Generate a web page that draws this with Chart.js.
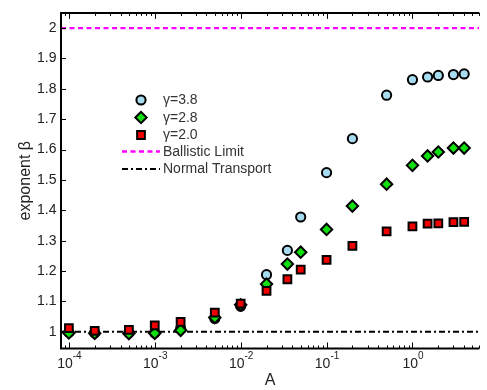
<!DOCTYPE html>
<html lang="en">
<head>
<meta charset="UTF-8">
<title>exponent beta vs A</title>
<style>
  body { margin: 0; background: #fff; }
  #wrap { width: 487px; height: 390px; }
</style>
</head>
<body>
<div id="wrap"><canvas id="chart" width="487" height="390"></canvas></div>
<script src="https://cdn.jsdelivr.net/npm/chart.js"></script>
<script>
// data
const xValues = [1e-4, 2e-4, 5e-4, 1e-3, 2e-3, 5e-3, 1e-2, 2e-2, 3.5e-2, 5e-2, 0.1, 0.2, 0.5, 1, 1.5, 2, 3, 4];
const beta38 = [0.998, 0.996, 0.997, 0.996, 1.010, 1.044, 1.084, 1.188, 1.268, 1.378, 1.524, 1.636, 1.779, 1.830, 1.839, 1.844, 1.847, 1.849];
const beta28 = [0.996, 0.995, 0.994, 0.995, 1.005, 1.047, 1.089, 1.157, 1.223, 1.262, 1.337, 1.414, 1.486, 1.548, 1.579, 1.592, 1.605, 1.605];
const beta20 = [1.012, 1.003, 1.006, 1.021, 1.033, 1.063, 1.093, 1.135, 1.173, 1.205, 1.237, 1.283, 1.331, 1.347, 1.356, 1.357, 1.361, 1.362];
const seriesNames = ['\u03b3=3.8', '\u03b3=2.8', '\u03b3=2.0'];
const lineNames = ['Ballistic Limit', 'Normal Transport'];
const ballisticY = [2, 2];
const normalY = [1, 1];

const xRange = [8.1e-5, 6];
const yRange = [0.945, 2.05];
const xTicks = [1e-4, 1e-3, 1e-2, 1e-1, 1];
const xTickExp = ['-4', '-3', '-2', '-1', '0'];
const yTicks = [1, 1.1, 1.2, 1.3, 1.4, 1.5, 1.6, 1.7, 1.8, 1.9, 2];

const toPts = ys => xValues.map((x, i) => ({ x: x, y: ys[i] }));
const linePts = ys => xRange.map((x, i) => ({ x: x, y: ys[i] }));

const styles = [
  { pointStyle: 'circle', radius: 4.6, fill: '#a6dbf0' },
  { pointStyle: 'rectRot', radius: 5.7, fill: '#10e010' },
  { pointStyle: 'rect', radius: 5.5, fill: '#f20000' }
];
const ballisticStyle = { color: '#ff00ff', dash: [5, 3.5], width: 2.4 };
const normalStyle = { color: '#000', dash: [6, 3, 2, 3], width: 2 };

function drawMarker(ctx, st, x, y) {
  ctx.save();
  ctx.fillStyle = st.fill;
  ctx.strokeStyle = '#000';
  ctx.lineWidth = 2;
  ctx.beginPath();
  if (st.pointStyle === 'circle') {
    ctx.arc(x, y, st.radius, 0, Math.PI * 2);
  } else if (st.pointStyle === 'rectRot') {
    const r = st.radius;
    ctx.moveTo(x - r, y); ctx.lineTo(x, y - r); ctx.lineTo(x + r, y); ctx.lineTo(x, y + r);
    ctx.closePath();
  } else {
    const h = st.radius * Math.SQRT1_2;
    ctx.rect(x - h, y - h, 2 * h, 2 * h);
  }
  ctx.fill();
  ctx.stroke();
  ctx.restore();
}

const axesPlugin = {
  id: 'axesBox',
  afterDraw(chart) {
    const ctx = chart.ctx;
    const a = chart.chartArea;
    const xs = chart.scales.x, ys = chart.scales.y;
    ctx.save();
    ctx.strokeStyle = '#000';
    ctx.lineWidth = 2;
    ctx.beginPath();
    ctx.moveTo(a.left, a.top); ctx.lineTo(a.left, a.bottom);
    ctx.moveTo(a.left - 1, a.bottom); ctx.lineTo(a.right, a.bottom);
    ctx.moveTo(a.left - 1, a.top); ctx.lineTo(a.right, a.top);
    ctx.stroke();

    // inward ticks
    ctx.lineWidth = 1;
    ctx.beginPath();
    yTicks.forEach(v => {
      const py = Math.round(ys.getPixelForValue(v)) + 0.5;
      ctx.moveTo(a.left, py); ctx.lineTo(a.left + 5, py);
    });
    for (let e = -5; e <= 0; e++) {
      for (let k = 1; k <= 9; k++) {
        const v = k * Math.pow(10, e);
        if (v < xRange[0] || v > xRange[1]) continue;
        const px = Math.round(xs.getPixelForValue(v)) + 0.5;
        const len = k === 1 ? 6 : 3;
        ctx.moveTo(px, a.bottom); ctx.lineTo(px, a.bottom - len);
        ctx.moveTo(px, a.top); ctx.lineTo(px, a.top + len);
      }
    }
    ctx.stroke();

    // x tick labels 10^n
    ctx.fillStyle = '#222';
    ctx.textBaseline = 'alphabetic';
    ctx.textAlign = 'left';
    xTicks.forEach((v, i) => {
      const px = xs.getPixelForValue(v);
      ctx.font = '14px "Liberation Sans", Arial, sans-serif';
      const wBase = ctx.measureText('10').width;
      ctx.font = '10px "Liberation Sans", Arial, sans-serif';
      const wExp = ctx.measureText(xTickExp[i]).width;
      const x0 = px - (wBase + wExp) / 2 + 0.5;
      ctx.font = '14px "Liberation Sans", Arial, sans-serif';
      ctx.fillText('10', x0, 368);
      ctx.font = '10px "Liberation Sans", Arial, sans-serif';
      ctx.fillText(xTickExp[i], x0 + wBase, 358.5);
    });

    // legend
    const lx = 141, tx = 163;
    const rows = [100, 117.5, 135, 151.5, 169];
    ctx.font = '14px "Liberation Sans", Arial, sans-serif';
    ctx.textBaseline = 'middle';
    styles.forEach((st, i) => {
      drawMarker(ctx, st, lx, rows[i]);
      ctx.fillStyle = '#333';
      ctx.fillText(seriesNames[i], tx, rows[i] + 0.5);
    });
    [ballisticStyle, normalStyle].forEach((ls, i) => {
      const y = rows[3 + i];
      ctx.strokeStyle = ls.color;
      ctx.lineWidth = ls.width;
      ctx.setLineDash(ls.dash);
      ctx.beginPath();
      ctx.moveTo(122, y); ctx.lineTo(160, y);
      ctx.stroke();
      ctx.setLineDash([]);
      ctx.fillStyle = '#333';
      ctx.fillText(lineNames[i], tx, y + 0.5);
    });
    ctx.restore();
  }
};

const scatterSet = (label, ys, st, order) => ({
  label: label,
  data: toPts(ys),
  showLine: false,
  pointStyle: st.pointStyle,
  pointRadius: st.radius,
  pointBackgroundColor: st.fill,
  pointBorderColor: '#000',
  pointBorderWidth: 2,
  order: order
});

new Chart(document.getElementById('chart'), {
  type: 'scatter',
  data: {
    datasets: [
      scatterSet(seriesNames[0], beta38, styles[0], 2),
      scatterSet(seriesNames[1], beta28, styles[1], 1),
      scatterSet(seriesNames[2], beta20, styles[2], 0),
      {
        label: lineNames[0], data: linePts(ballisticY), showLine: true, pointRadius: 0,
        borderColor: ballisticStyle.color, borderWidth: ballisticStyle.width,
        borderDash: ballisticStyle.dash, order: 4
      },
      {
        label: lineNames[1], data: linePts(normalY), showLine: true, pointRadius: 0,
        borderColor: normalStyle.color, borderWidth: normalStyle.width,
        borderDash: normalStyle.dash, order: 3
      }
    ]
  },
  options: {
    responsive: false,
    animation: false,
    layout: { padding: { top: 8, right: 0, left: 0, bottom: 0 } },
    plugins: { legend: { display: false }, tooltip: { enabled: false } },
    scales: {
      x: {
        type: 'logarithmic',
        min: xRange[0],
        max: xRange[1],
        grid: { display: false, drawTicks: false },
        border: { display: false },
        ticks: { display: false },
        afterBuildTicks: s => { s.ticks = xTicks.map(v => ({ value: v })); },
        afterFit: s => { s.height = 41.5; },
        title: {
          display: true, text: 'A', color: '#222', padding: 0,
          font: { family: '"Liberation Sans", Arial, sans-serif', size: 16 }
        }
      },
      y: {
        min: yRange[0],
        max: yRange[1],
        grid: { display: false, drawTicks: false },
        border: { display: false },
        afterBuildTicks: s => { s.ticks = yTicks.map(v => ({ value: v })); },
        afterFit: s => { s.width = 61; },
        ticks: {
          padding: 4.5, color: '#222',
          font: { family: '"Liberation Sans", Arial, sans-serif', size: 14 },
          callback: v => String(Number(v.toFixed(1)))
        },
        title: {
          display: true, text: 'exponent \u03b2', color: '#222', padding: { top: 16, bottom: 0 },
          font: { family: '"Liberation Sans", Arial, sans-serif', size: 16 }
        }
      }
    }
  },
  plugins: [axesPlugin]
});
</script>
</body>
</html>
